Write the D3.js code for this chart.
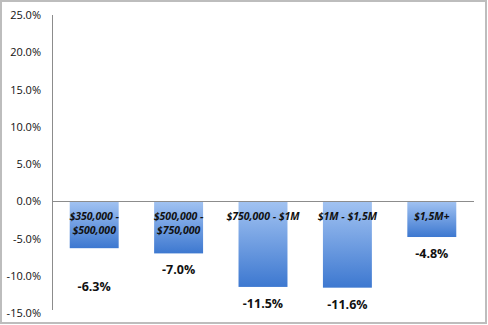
<!DOCTYPE html>
<html>
<head>
<meta charset="utf-8">
<script src="https://cdn.jsdelivr.net/npm/d3@7"></script>
<style>
  html, body { margin: 0; padding: 0; background: #fff; }
  svg { display: block; }
</style>
</head>
<body>
<svg id="chart" width="488" height="325"></svg>
<script>
// Price bands and their change
const categories = [["$350,000 -", "$500,000"], ["$500,000 -", "$750,000"], ["$750,000 - $1M"], ["$1M - $1,5M"], ["$1,5M+"]];
const values = [-6.3, -7.0, -11.5, -11.6, -4.8];
const yTicks = [25, 20, 15, 10, 5, 0, -5, -10, -15];
// extra drop of each value label below its bar end (px)
const labelDrop = [39, 17, 17, 17, 17];

const W = 488, H = 325;
const svg = d3.select("#chart");
const pct = d => d3.format(".1f")(d).replace("\u2212", "-") + "%";

// outer frame
svg.append("rect").attr("x", 1).attr("y", 1).attr("width", W - 3).attr("height", H - 3)
  .attr("fill", "#fff").attr("stroke", "#bdbdbd").attr("stroke-width", 2);

const plot = { left: 52, right: 474, top: 15, bottom: 313 };

const x = d3.scaleBand().domain(d3.range(values.length))
  .range([plot.left, plot.right]).paddingInner(0.42).paddingOuter(0.21);
const y = d3.scaleLinear().domain([-15, 25]).range([plot.bottom, plot.top]);

const defs = svg.append("defs");
const grad = defs.append("linearGradient").attr("id", "barGrad")
  .attr("x1", 0).attr("y1", 0).attr("x2", 0).attr("y2", 1);
grad.append("stop").attr("offset", "0%").attr("stop-color", "#a2c3f2");
grad.append("stop").attr("offset", "100%").attr("stop-color", "#3d78d0");

// y axis
const yAxis = d3.axisLeft(y).tickValues(yTicks).tickSize(0).tickPadding(11)
  .tickFormat(pct);
const ga = svg.append("g").attr("transform", `translate(${plot.left},0)`).call(yAxis);
ga.select(".domain").attr("stroke", "#8c8c8c").attr("d", `M0.5,${plot.top}V${plot.bottom - 3}`);
ga.selectAll("text").attr("font-family", "'Open Sans', sans-serif").attr("font-size", 11)
  .attr("fill", "#111");

// bars
svg.append("g").selectAll("rect").data(values).join("rect")
  .attr("x", (d, i) => x(i))
  .attr("width", x.bandwidth())
  .attr("y", d => y(Math.max(0, d)))
  .attr("height", d => Math.abs(y(d) - y(0)))
  .attr("fill", "url(#barGrad)");

// zero line
svg.append("line").attr("x1", plot.left).attr("x2", plot.right)
  .attr("y1", Math.round(y(0)) + 0.5).attr("y2", Math.round(y(0)) + 0.5)
  .attr("stroke", "#8c8c8c").attr("stroke-width", 1);

// category labels inside the bars
const cat = svg.append("g").selectAll("text").data(categories).join("text")
  .attr("x", (d, i) => x(i) + x.bandwidth() / 2)
  .attr("y", y(0) + 19)
  .attr("text-anchor", "middle")
  .attr("font-family", "'Open Sans', sans-serif")
  .attr("font-size", 10.5)
  .attr("font-weight", "bold")
  .attr("font-style", "italic")
  .attr("fill", "#111");
cat.selectAll("tspan").data(d => d).join("tspan")
  .attr("x", function () { return d3.select(this.parentNode).attr("x"); })
  .attr("dy", (d, j) => j === 0 ? 0 : 13.5)
  .text(d => d);

// value labels
svg.append("g").selectAll("text").data(values).join("text")
  .attr("x", (d, i) => x(i) + x.bandwidth() / 2)
  .attr("y", (d, i) => y(d) + labelDrop[i] + 4)
  .attr("text-anchor", "middle")
  .attr("font-family", "'Open Sans', sans-serif")
  .attr("font-size", 12.5)
  .attr("font-weight", "bold")
  .attr("fill", "#111")
  .text(pct);
</script>
</body>
</html>
